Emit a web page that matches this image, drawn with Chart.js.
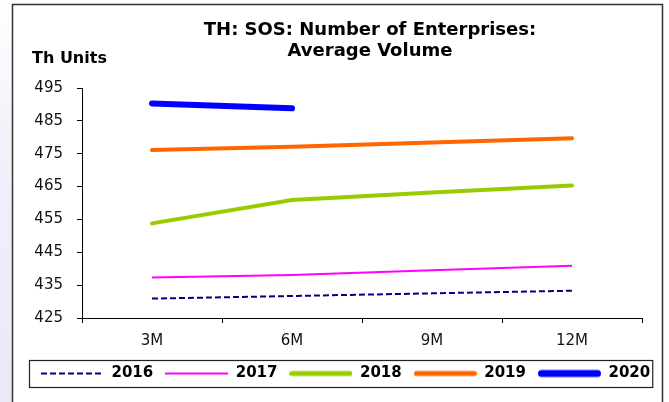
<!DOCTYPE html>
<html>
<head>
<meta charset="utf-8">
<script src="https://cdn.jsdelivr.net/npm/chart.js@4.4.1/dist/chart.umd.min.js"></script>
<style>
  html, body { margin: 0; padding: 0; background: #fff; }
  #wrap { width: 669px; height: 402px; }
</style>
</head>
<body>
<div id="wrap"><canvas id="chart"></canvas></div>
<script>
const titleLines = ['TH: SOS: Number of Enterprises:', 'Average Volume'];
const unitLabel = 'Th Units';

const periods = ['3M', '6M', '9M', '12M'];
const years = ['2016', '2017', '2018', '2019', '2020'];
const v2016 = [430.9, 431.7, 432.5, 433.3];
const v2017 = [437.3, 438.1, 439.5, 440.9];
const v2018 = [453.8, 460.9, 463.2, 465.3];
const v2019 = [476.1, 477.1, 478.4, 479.7];
const v2020 = [490.3, 488.8, null, null];
const yMin = 425, yMax = 495, yStep = 10;

Chart.defaults.font.family = '"DejaVu Sans", sans-serif';
Chart.defaults.color = '#000';

const decor = {
  id: 'decor',
  beforeDraw(chart) {
    const ctx = chart.ctx;
    const h = chart.height;
    ctx.save();
    ctx.fillStyle = '#fff';
    ctx.fillRect(0, 0, chart.width, h);
    let g = ctx.createLinearGradient(0, 0, 0, h);
    g.addColorStop(0, '#ffffff');
    g.addColorStop(0.35, '#f1f1fa');
    g.addColorStop(1, '#e9eaf6');
    ctx.fillStyle = g;
    ctx.fillRect(0, 0, 12, h);
    ctx.strokeStyle = '#333';
    ctx.lineWidth = 1.5;
    ctx.beginPath();
    ctx.moveTo(12.5, h);
    ctx.lineTo(12.5, 4.5);
    ctx.lineTo(662.5, 4.5);
    ctx.lineTo(662.5, h);
    ctx.stroke();

    ctx.fillStyle = '#000';
    ctx.textBaseline = 'middle';
    ctx.textAlign = 'center';
    ctx.font = 'bold 18px "DejaVu Sans"';
    titleLines.forEach((t, i) => ctx.fillText(t, 370, 30 + i * 21));
    ctx.textAlign = 'left';
    ctx.font = 'bold 16px "DejaVu Sans"';
    ctx.fillText(unitLabel, 32, 59);
    ctx.restore();
  },
  afterDraw(chart) {
    // box round the legend
    const lg = chart.legend;
    const pad = lg.options.labels.padding;
    const ctx = chart.ctx;
    ctx.save();
    ctx.strokeStyle = '#222';
    ctx.lineWidth = 1.2;
    const top = Math.round(lg.top + pad - 6) + 0.5;
    ctx.strokeRect(Math.round(lg.left) + 0.5, top, lg.lineWidths[0] + 2, 15 + 12);
    ctx.restore();
  }
};

// small picture of a line, used as legend symbol so dashes show
function swatch(color, width, dash, cap) {
  let c = document.createElement('canvas');
  c.width = 63;
  c.height = 10;
  let x = c.getContext('2d');
  x.strokeStyle = color;
  x.lineWidth = width;
  x.lineCap = cap || 'butt';
  x.setLineDash(dash || []);
  let inset = cap == 'round' ? width / 2 : 0;
  x.beginPath();
  x.moveTo(inset, 5);
  x.lineTo(63 - inset, 5);
  x.stroke();
  return c;
}

let datasets = [
  { label: years[0], data: v2016, borderColor: '#000080', borderWidth: 2, borderDash: [6, 3] },
  { label: years[1], data: v2017, borderColor: '#ff00ff', borderWidth: 2 },
  { label: years[2], data: v2018, borderColor: '#99cc00', borderWidth: 4, borderCapStyle: 'round' },
  { label: years[3], data: v2019, borderColor: '#ff6600', borderWidth: 4, borderCapStyle: 'round' },
  { label: years[4], data: v2020, borderColor: '#0000ff', borderWidth: 6, borderCapStyle: 'round' }
];
datasets.forEach(function(d) {
  d.backgroundColor = d.borderColor;
  d.pointRadius = 0;
  d.tension = 0;
  d.fill = false;
  d.yAxisID = 'y';
  d.pointStyle = swatch(d.borderColor, d.borderWidth + (d.borderWidth > 2 ? 1 : 0), d.borderDash, d.borderCapStyle);
});

let chart = new Chart(document.getElementById('chart'), {
  type: 'line',
  data: { labels: periods, datasets: datasets },
  options: {
    responsive: true,
    maintainAspectRatio: false,
    animation: false,
    events: [],
    layout: { padding: { left: 29, right: 0, top: 88, bottom: 11 } },
    plugins: {
      title: { display: false },
      tooltip: { enabled: false },
      legend: {
        display: true,
        position: 'bottom',
        align: 'start',
        labels: {
          usePointStyle: true,
          pointStyleWidth: 63,
          padding: 12,
          color: '#000',
          font: { size: 15, weight: 'bold' }
        }
      }
    },
    scales: {
      x: {
        offset: true,
        grid: { display: true, offset: true, drawOnChartArea: false, drawTicks: true, tickLength: 5, color: '#000' },
        border: { display: true, color: '#000', width: 1 },
        ticks: { padding: 9, color: '#111', font: { size: 15 } },
        afterFit: function(scale) { scale.height = 36; }
      },
      y: {
        position: 'left',
        min: yMin,
        max: yMax,
        grid: { display: true, drawOnChartArea: false, drawTicks: true, tickLength: 5, color: '#000' },
        border: { display: true, color: '#000', width: 1 },
        ticks: { stepSize: yStep, padding: 14, color: '#111', font: { size: 15 } },
        afterFit: function(scale) { scale.width = 53; }
      },
      yR: {
        position: 'right',
        display: true,
        grid: { display: false },
        border: { display: false },
        ticks: { display: false },
        afterFit: function(scale) { scale.width = 27; }
      }
    }
  },
  plugins: [decor]
});
</script>
</body>
</html>
